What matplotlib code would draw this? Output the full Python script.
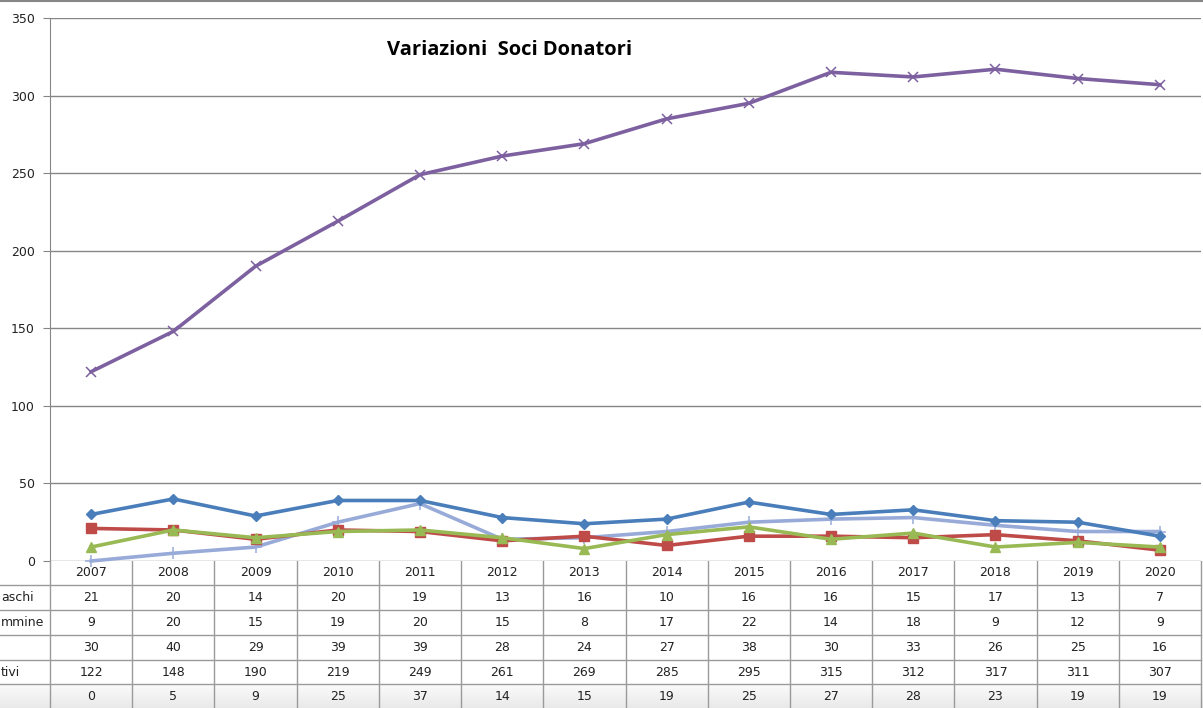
import numpy as np
import matplotlib.pyplot as plt

anni = [2007, 2008, 2009, 2010, 2011, 2012, 2013, 2014, 2015, 2016, 2017, 2018, 2019, 2020]
maschi = [21, 20, 14, 20, 19, 13, 16, 10, 16, 16, 15, 17, 13, 7]
femmine = [9, 20, 15, 19, 20, 15, 8, 17, 22, 14, 18, 9, 12, 9]
totale = [30, 40, 29, 39, 39, 28, 24, 27, 38, 30, 33, 26, 25, 16]
attivi = [122, 148, 190, 219, 249, 261, 269, 285, 295, 315, 312, 317, 311, 307]
ultima = [0, 5, 9, 25, 37, 14, 15, 19, 25, 27, 28, 23, 19, 19]

etichette = ["aschi", "mmine", "", "tivi", ""]
righe = [maschi, femmine, totale, attivi, ultima]

W, H = 1203, 708
fig = plt.figure(figsize=(W / 100, H / 100), dpi=100)

x = np.arange(len(anni))
grey = "#868686"

# area del grafico
ax = fig.add_axes([50 / W, (H - 561) / H, 1151 / W, 543 / H])
ax.set_xlim(-0.5, len(anni) - 0.5)
ax.set_ylim(0, 350)
ax.set_yticks(range(0, 351, 50))
ax.set_xticks([])
ax.grid(axis="y", color=grey, lw=1)
ax.set_axisbelow(True)
for s in ["top", "right", "bottom"]:
    ax.spines[s].set_visible(False)
ax.spines["left"].set_color(grey)
ax.tick_params(axis="y", colors=grey, length=5, labelcolor="#222222", labelsize=9, pad=6)

lw = 2.6
ax.plot(x, ultima, color="#98ABD8", lw=lw, marker="+", ms=9, mew=1.1, clip_on=False, zorder=3)
ax.plot(x, totale, color="#4A7EBB", lw=lw, marker="D", ms=5, clip_on=False, zorder=4)
ax.plot(x, maschi, color="#BE4B48", lw=lw, marker="s", ms=6.5, clip_on=False, zorder=5)
ax.plot(x, femmine, color="#98B954", lw=lw, marker="^", ms=7, clip_on=False, zorder=6)
ax.plot(x, attivi, color="#7D60A0", lw=lw, marker="x", ms=7, mew=1.1, clip_on=False, zorder=4)

fig.text(387 / W, 1 - 50 / H, "Variazioni  Soci Donatori", fontsize=14.5, fontweight="bold",
         family="Open Sans", va="center", ha="left")

# tabella dati
tb = fig.add_axes([0, 0, 1, 147 / H])
tb.set_xlim(0, W)
tb.set_ylim(147, 0)
tb.axis("off")

bordi = [0, 24, 49, 74, 99, 123, 147]
# sfondo ultima riga
grad = np.linspace(0, 1, 50).reshape(-1, 1)
tb.imshow(grad, cmap=plt.matplotlib.colors.LinearSegmentedColormap.from_list("g", ["#fbfbfb", "#e9e9e9"]),
          extent=[0, W, bordi[-1], bordi[-2]], aspect="auto", zorder=0)

cx = 50 + (x + 0.5) * 1151 / len(anni)
for b in bordi[1:-1]:
    tb.plot([0, 1201], [b, b], color="#9a9a9a", lw=1)
for k in range(len(anni) + 1):
    xv = 50 + k * 1151 / len(anni)
    tb.plot([xv, xv], [0, 147], color="#9a9a9a", lw=1)

for i, a in enumerate(anni):
    tb.text(cx[i], bordi[0] + 12, str(a), ha="center", va="center", fontsize=9, color="#222222")
for r, (lab, vals) in enumerate(zip(etichette, righe)):
    yc = (bordi[r + 1] + bordi[r + 2]) / 2
    tb.text(1, yc, lab, ha="left", va="center", fontsize=9, color="#222222")
    for i, v in enumerate(vals):
        tb.text(cx[i], yc, str(v), ha="center", va="center", fontsize=9, color="#222222")

# bordo superiore
fig.add_artist(plt.Line2D([0, 1], [1 - 1 / H, 1 - 1 / H], color=grey, lw=1.5))

fig.savefig("out.png", dpi=100)
